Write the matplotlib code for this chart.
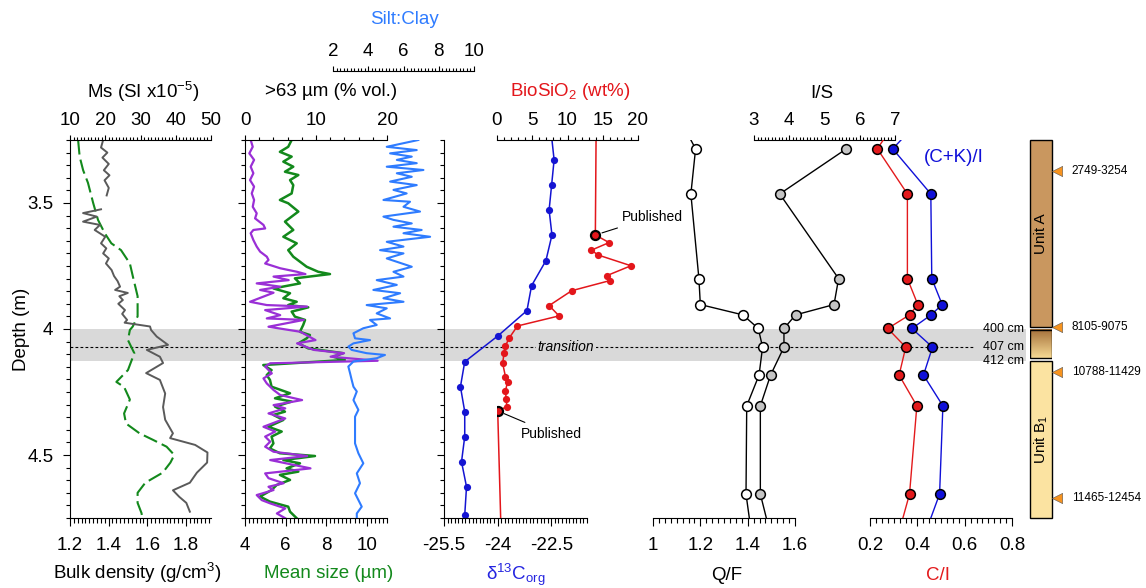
import numpy as np
import matplotlib
matplotlib.use("Agg")
import matplotlib.pyplot as plt
from matplotlib.ticker import MultipleLocator, FixedLocator, FuncFormatter
from matplotlib.transforms import blended_transform_factory
from matplotlib.patches import Rectangle
from matplotlib.lines import Line2D
from matplotlib.colors import LinearSegmentedColormap

plt.rcParams["font.family"] = ["Liberation Sans", "DejaVu Sans"]
plt.rcParams["mathtext.fontset"] = "custom"
plt.rcParams["mathtext.rm"] = "Liberation Sans"
plt.rcParams["mathtext.it"] = "Liberation Sans:italic"
plt.rcParams["axes.unicode_minus"] = False

# ---------------- data ----------------
# magnetic susceptibility (SI x1e-5)
ms_depth = [3.25, 3.28, 3.30, 3.32, 3.345, 3.37, 3.39, 3.41, 3.44, 3.47, 3.49, 3.525, 3.54, 3.554,
            3.574, 3.587, 3.607, 3.634, 3.66, 3.68, 3.70, 3.72, 3.74, 3.766, 3.79, 3.81, 3.832, 3.845,
            3.857, 3.87, 3.885, 3.90, 3.925, 3.94, 3.964, 3.975, 3.99, 4.004, 4.03, 4.063, 4.083, 4.11,
            4.135, 4.175, 4.202, 4.256, 4.31, 4.36, 4.414, 4.433, 4.46, 4.49, 4.53, 4.57, 4.61, 4.64,
            4.666, 4.69, 4.725]
ms_val = [19.4, 18.8, 20.6, 19.2, 21.0, 19.6, 21.2, 19.8, 21.0, 20.4, np.nan, 18.8, 13.7, 17.6,
          13.7, 18.5, 17.0, 20.0, 18.8, 20.3, 19.4, 21.0, 20.2, 21.8, 22.5, 23.5, 24.2, 22.8,
          26.4, 24.0, 25.0, 23.7, 25.6, 24.8, 26.2, 25.5, 32.7, 33.0, 34.6, 37.8, 31.8, 35.5,
          36.4, 31.6, 35.5, 37.0, 36.4, 37.0, 39.2, 38.4, 45.5, 49.0, 48.9, 46.0, 44.0, 39.2,
          41.0, 43.0, 44.0]

# bulk density (g/cm3)
bd_depth = [3.25, 3.316, 3.37, 3.42, 3.5, 3.567, 3.62, 3.66, 3.687, 3.74, 3.79, 3.87, 3.95, 3.99,
            4.004, 4.044, 4.096, 4.163, 4.21, 4.23, 4.28, 4.335, 4.375, 4.414, 4.44, 4.467, 4.5,
            4.53, 4.57, 4.61, 4.65, 4.69, 4.73, 4.75]
bd_val = [1.242, 1.25, 1.268, 1.293, 1.32, 1.345, 1.38, 1.414, 1.464, 1.51, 1.525, 1.55, 1.55, 1.525,
          1.51, 1.50, 1.533, 1.50, 1.44, 1.48, 1.51, 1.48, 1.49, 1.56, 1.63, 1.70, 1.74,
          1.72, 1.68, 1.59, 1.55, 1.55, 1.57, 1.575]

# >63 um fraction (% vol.)
sand_depth = [3.250, 3.277, 3.303, 3.329, 3.356, 3.382, 3.409, 3.435, 3.462, 3.488, 3.515, 3.541,
              3.561, 3.587, 3.601, 3.607, 3.620, 3.647, 3.673, 3.693, 3.713, 3.726, 3.740, 3.759,
              3.773, 3.782, 3.792, 3.806, 3.819, 3.832, 3.845, 3.856, 3.892, 3.905, 3.911, 3.925,
              3.945, 3.958, 3.964, 3.991, 4.011, 4.044, 4.057, 4.083, 4.096, 4.110, 4.126, 4.136,
              4.149, 4.176, 4.196, 4.216, 4.242, 4.262, 4.282, 4.302, 4.315, 4.335, 4.355, 4.388,
              4.407, 4.427, 4.447, 4.467, 4.487, 4.504, 4.520, 4.553, 4.573, 4.592, 4.612, 4.626,
              4.639, 4.659, 4.679, 4.692, 4.712, 4.732, 4.751]
sand_val = [0.80, 1.09, 0.61, 1.28, 0.80, 1.18, 0.71, 1.28, 0.95, 1.28, 1.09, 1.65,
            1.42, 2.60, 2.84, 1.18, 0.80, 1.18, 1.65, 2.13, 3.07, 3.31, 2.84, 4.96,
            7.33, 8.51, 4.02, 6.15, 1.65, 4.96, 2.13, 4.02, 0.71, 3.07, 8.75, 2.84,
            4.96, 3.07, 8.27, 3.31, 7.80, 9.93, 7.33, 9.69, 13.95, 12.06, 18.68, 3.55,
            2.84, 3.78, 2.60, 3.07, 4.02, 4.96, 8.04, 4.02, 5.67, 3.31, 5.67, 2.60,
            4.26, 2.84, 3.55, 2.84, 4.02, 8.75, 3.55, 9.22, 2.84, 3.31, 5.44, 3.31,
            4.02, 1.65, 2.36, 3.55, 5.67, 4.49, 5.67]

# mean grain size (um)
msz_depth = [3.250, 3.277, 3.297, 3.316, 3.336, 3.356, 3.376, 3.389, 3.409, 3.429, 3.462, 3.488,
             3.501, 3.534, 3.554, 3.574, 3.607, 3.634, 3.660, 3.687, 3.713, 3.753, 3.773, 3.782,
             3.799, 3.819, 3.839, 3.858, 3.878, 3.892, 3.905, 3.914, 3.931, 3.951, 3.964, 3.984,
             4.011, 4.024, 4.037, 4.057, 4.077, 4.096, 4.110, 4.123, 4.143, 4.163, 4.183, 4.202,
             4.229, 4.255, 4.275, 4.288, 4.308, 4.328, 4.341, 4.361, 4.388, 4.407, 4.427, 4.454,
             4.474, 4.493, 4.504, 4.520, 4.533, 4.553, 4.566, 4.579, 4.599, 4.619, 4.639, 4.665,
             4.685, 4.705, 4.725, 4.751]
msz_val = [6.30, 6.13, 5.72, 6.30, 5.89, 6.38, 5.97, 6.63, 6.22, 6.38, 6.30, 5.72,
           6.13, 6.63, 6.30, 5.97, 6.38, 5.89, 6.55, 6.13, 6.38, 7.04, 7.61, 8.19,
           6.46, 6.71, 5.40, 6.22, 5.89, 6.55, 6.13, 7.12, 6.30, 6.46, 6.96, 6.87,
           6.71, 7.20, 7.04, 6.63, 7.12, 8.84, 8.35, 8.92, 4.90, 5.31, 5.07, 5.23,
           5.31, 6.22, 5.48, 6.30, 5.48, 5.97, 5.40, 5.89, 5.15, 5.81, 5.31, 5.40,
           5.23, 5.72, 7.45, 5.89, 6.71, 6.05, 6.63, 5.72, 6.22, 5.56, 5.31, 4.74,
           5.23, 6.13, 6.22, 6.55]

# silt:clay ratio
sc_depth = [3.250, 3.277, 3.290, 3.303, 3.316, 3.329, 3.342, 3.356, 3.369, 3.382, 3.396, 3.415,
            3.429, 3.448, 3.462, 3.488, 3.495, 3.515, 3.534, 3.554, 3.567, 3.581, 3.594, 3.607,
            3.620, 3.634, 3.654, 3.673, 3.687, 3.700, 3.720, 3.753, 3.773, 3.792, 3.806, 3.825,
            3.845, 3.858, 3.878, 3.892, 3.905, 3.918, 3.938, 3.958, 3.964, 3.984, 3.997, 4.017,
            4.037, 4.044, 4.057, 4.070, 4.083, 4.096, 4.103, 4.116, 4.129, 4.149, 4.176, 4.202,
            4.229, 4.248, 4.282, 4.321, 4.348, 4.401, 4.454, 4.493, 4.533, 4.573, 4.612, 4.652,
            4.705, 4.732, 4.751]
sc_val = [6.84, 5.05, 6.75, 5.24, 6.47, 5.62, 6.75, 5.05, 7.13, 5.62, 6.47, 5.24,
          6.75, 5.43, 6.18, 4.86, 6.37, 6.00, 6.94, 4.86, 5.43, 6.47, 5.43, 7.03,
          6.00, 7.51, 5.05, 6.00, 4.67, 6.00, 5.05, 6.47, 5.43, 6.00, 4.48, 5.62,
          4.29, 5.81, 4.86, 6.00, 3.91, 5.05, 4.48, 5.24, 4.10, 4.48, 3.72, 3.16,
          3.25, 4.10, 3.16, 2.87, 3.06, 3.91, 4.95, 4.48, 3.16, 2.87, 2.97, 3.06,
          3.16, 3.35, 3.16, 3.44, 3.25, 3.25, 3.25, 3.44, 3.72, 3.35, 3.53, 3.25,
          3.63, 3.35, 3.35]

# d13C org (permil) -- first value is where the line meets the top of the plot
d13_depth = [3.25, 3.329, 3.429, 3.528, 3.627, 3.729, 3.828, 3.927, 4.027, 4.13, 4.229, 4.328,
             4.427, 4.527, 4.626, 4.738]
d13_val = [-22.48, -22.42, -22.49, -22.56, -22.48, -22.65, -23.05, -23.18, -23.99, -24.92, -25.04,
           -24.92, -24.92, -25.01, -24.87, -24.92]

# BioSiO2 (wt%), new measurements
bio_depth = [3.657, 3.687, 3.706, 3.749, 3.788, 3.808, 3.848, 3.907, 3.948, 3.988, 4.037, 4.067,
             4.096, 4.136, 4.189, 4.209, 4.246, 4.278, 4.308]
bio_val = [15.9, 13.4, 14.3, 19.0, 15.6, 16.0, 10.6, 7.4, 8.8, 2.9, 1.7, 1.2,
           1.0, 0.8, 1.2, 1.5, 1.2, 1.3, 1.4]
# published BioSiO2 values and where their lines leave the plot
pub_depth = [3.627, 4.325]
pub_val = [13.95, 0.1]
pub_edge_val = [14.05, 0.52]

# clay mineralogy
clay_depth = [3.285, 3.464, 3.80, 3.903, 3.944, 3.998, 4.072, 4.183, 4.305, 4.655]
qf_val = [1.18, 1.16, 1.194, 1.20, 1.38, 1.445, 1.463, 1.448, 1.396, 1.393]
is_val = [5.62, 3.73, 5.40, 5.27, 4.18, 3.85, 3.85, 3.47, 3.18, 3.18]
ci_val = [0.231, 0.358, 0.358, 0.402, 0.367, 0.275, 0.351, 0.323, 0.398, 0.367]
ck_val = [0.296, 0.457, 0.461, 0.505, 0.458, 0.377, 0.464, 0.426, 0.508, 0.494]
# values where the lines reach the top / bottom of the plot
qf_edge = [1.16, 1.407]
is_edge = [np.nan, 3.35]
ci_edge = [0.256, 0.339]
ck_edge = [0.331, 0.457]

# stratigraphy
unit_names = ["Unit A", "Unit B$_1$"]
unit_top = [3.25, 4.127]
unit_bot = [3.993, 4.75]
trans_top, trans_bot = 4.003, 4.115
age_depth = [3.373, 3.993, 4.172, 4.672]
age_labels = ["2749-3254", "8105-9075", "10788-11429", "11465-12454"]

band_top, band_bot, trans_line = 4.00, 4.127, 4.07

# ---------------- figure ----------------
W, H = 1146, 588
TOP, BOT = 140, 518
D0, D1 = 3.25, 4.75
FS = 13.5

fig = plt.figure(figsize=(W / 100, H / 100), dpi=100)


def make_ax(x0, x1):
    ax = fig.add_axes([x0 / W, (H - BOT) / H, (x1 - x0) / W, (BOT - TOP) / H])
    ax.set_ylim(D1, D0)
    ax.patch.set_visible(False)
    for s in ax.spines.values():
        s.set_visible(False)
    ax.tick_params(which="both", left=False, right=False, top=False, bottom=False,
                   labelleft=False, labelright=False, labeltop=False, labelbottom=False)
    return ax


def gfmt(v, p):
    return f"{v:g}"


def style_x(ax, side, lo, hi, major, minor):
    ax.set_xlim(lo, hi)
    ax.spines[side].set_visible(True)
    ax.xaxis.set_ticks_position(side)
    ax.xaxis.set_major_locator(MultipleLocator(major))
    ax.xaxis.set_minor_locator(MultipleLocator(minor))
    ax.xaxis.set_major_formatter(FuncFormatter(gfmt))
    kw = {side: True, "label" + side: True}
    ax.tick_params(axis="x", which="both", direction="out", labelsize=FS, width=0.8, **kw)
    if side == "bottom":
        ax.tick_params(axis="x", which="major", length=5.8, pad=8)
        ax.tick_params(axis="x", which="minor", length=3.6)
    else:
        ax.tick_params(axis="x", which="major", length=3.8, pad=4)
        ax.tick_params(axis="x", which="minor", length=2.4)


def style_depth(ax, labels):
    ax.spines["left"].set_visible(True)
    ax.yaxis.set_major_locator(FixedLocator([3.5, 4.0, 4.5]))
    ax.yaxis.set_minor_locator(MultipleLocator(0.05))
    ax.yaxis.set_major_formatter(FuncFormatter(gfmt))
    ax.tick_params(axis="y", which="both", left=True, direction="out", labelleft=labels,
                   labelsize=FS, width=0.8)
    ax.tick_params(axis="y", which="major", length=5, pad=7)
    ax.tick_params(axis="y", which="minor", length=3)


# panel 1: bulk density + Ms
ax_bd = make_ax(70, 211)
style_x(ax_bd, "bottom", 1.2, 1.93, 0.2, 0.02)
style_depth(ax_bd, True)
ax_bd.plot(bd_val, bd_depth, color="#13891c", lw=1.5, ls=(0, (7, 2.5)))

ax_ms = make_ax(70, 211)
style_x(ax_ms, "top", 10, 50, 10, 1)
ax_ms.plot(ms_val, ms_depth, color="#5a5a5a", lw=1.4)

# panel 2: grain size
ax_msz = make_ax(245, 387)
style_x(ax_msz, "bottom", 4, 11, 2, 0.2)
style_depth(ax_msz, False)

ax_sand = make_ax(245, 387)
style_x(ax_sand, "top", 0, 20, 10, 2)

ax_sc = make_ax(333, 474)
style_x(ax_sc, "top", 2, 10, 2, 0.2)
ax_sc.spines["top"].set_position(("outward", 69 * 0.72))
ax_sc.plot(sc_val, sc_depth, color="#2f7cff", lw=1.5)
ax_msz.plot(msz_val, msz_depth, color="#13891c", lw=1.8)
ax_sand.plot(sand_val, sand_depth, color="#9a2fd6", lw=1.6)

# panel 3: d13C and BioSiO2
ax_d13 = make_ax(444, 587)
style_x(ax_d13, "bottom", -25.5, -21.5, 1.5, 0.1)
style_depth(ax_d13, False)
ax_d13.plot(d13_val, d13_depth, color="#1414d2", lw=1.1)
ax_d13.plot(d13_val[1:], d13_depth[1:], "o", color="#1414d2", ms=5.2, mew=0)

ax_bio = make_ax(497, 638)
style_x(ax_bio, "top", 0, 20, 5, 1)
ax_bio.plot([pub_edge_val[0], pub_val[0]], [D0, pub_depth[0]], color="#e3161b", lw=1.1)
ax_bio.plot([pub_val[1], pub_edge_val[1]], [pub_depth[1], D1], color="#e3161b", lw=1.1)
ax_bio.plot([pub_val[0]] + bio_val + [pub_val[1]], [pub_depth[0]] + bio_depth + [pub_depth[1]],
            color="#e3161b", lw=1.1)
ax_bio.plot(bio_val, bio_depth, "o", color="#e3161b", ms=5.2, mew=0)
ax_bio.plot(pub_val, pub_depth, "o", mfc="#e3161b", mec="k", ms=6.5, mew=1.6, zorder=4)
ax_bio.annotate("Published", xy=(pub_val[0], pub_depth[0]), xytext=(19, 13),
                textcoords="offset points", ha="left", va="center", fontsize=10,
                arrowprops=dict(arrowstyle="-", color="k", lw=0.8, shrinkA=3, shrinkB=5),
                annotation_clip=False)
ax_bio.annotate("Published", xy=(pub_val[1], pub_depth[1]), xytext=(17, -16.5),
                textcoords="offset points", ha="left", va="center", fontsize=10,
                arrowprops=dict(arrowstyle="-", color="k", lw=0.8, shrinkA=3, shrinkB=5),
                annotation_clip=False)

# panel 4: Q/F and I/S
ax_qf = make_ax(653, 795)
style_x(ax_qf, "bottom", 1, 1.6, 0.2, 0.025)
ax_qf.plot([qf_edge[0]] + qf_val + [qf_edge[1]], [D0] + clay_depth + [D1], color="k", lw=1)
ax_qf.plot(qf_val, clay_depth, "o", mfc="white", mec="k", ms=7, mew=1.1)

ax_is = make_ax(754, 895)
style_x(ax_is, "top", 3, 7, 1, 0.1)
ax_is.plot([is_edge[0]] + is_val + [is_edge[1]], [D0] + clay_depth + [D1], color="k", lw=1)
ax_is.plot(is_val, clay_depth, "o", mfc="#c4c4c4", mec="k", ms=7, mew=1.1)

# panel 5: C/I and (C+K)/I
ax_ci = make_ax(870, 1012)
style_x(ax_ci, "bottom", 0.2, 0.8, 0.2, 0.025)
ax_ci.plot([ck_edge[0]] + ck_val + [ck_edge[1]], [D0] + clay_depth + [D1], color="#1010d8", lw=1)
ax_ci.plot([ci_edge[0]] + ci_val + [ci_edge[1]], [D0] + clay_depth + [D1], color="#e31a1c", lw=1)
ax_ci.plot(ck_val, clay_depth, "o", mfc="#1010d8", mec="k", ms=7, mew=1.1)
ax_ci.plot(ci_val, clay_depth, "o", mfc="#e31a1c", mec="k", ms=7, mew=1.1)

# stratigraphic column
ax_col = make_ax(1030, 1052)
ax_col.set_xlim(0, 1)
cmap = LinearSegmentedColormap.from_list("tr", ["#a4703a", "#f6d994"])
ax_col.imshow(np.linspace(0, 1, 60)[:, None], cmap=cmap, aspect="auto",
              extent=[0, 1, trans_bot, trans_top], origin="upper", zorder=1)
ax_col.add_patch(Rectangle((0, trans_top), 1, trans_bot - trans_top, fill=False, ec="k", lw=1, zorder=2))
for name, t, b, c in zip(unit_names, unit_top, unit_bot, ["#c9975f", "#fbe3a1"]):
    ax_col.add_patch(Rectangle((0, t), 1, b - t, fc=c, ec="k", lw=1, zorder=2, clip_on=False))
    ax_col.text(0.5, (t + b) / 2, name, rotation=90, ha="center", va="center", fontsize=11, zorder=3)
ax_col.set_xlim(0, 1)
ax_col.set_ylim(D1, D0)
ax_col.scatter(np.full(len(age_depth), 1.22), age_depth, marker="<", s=55, c="#f7931e",
               edgecolors="#555555", linewidths=0.4, clip_on=False, zorder=4)
for d, lab in zip(age_depth, age_labels):
    ax_col.text(1.9, d, lab, ha="left", va="center", fontsize=8.5, clip_on=False)

# transition band across all panels
tr = blended_transform_factory(fig.transFigure, ax_bd.transData)
band = Rectangle((70 / W, band_top), (1026 - 70) / W, band_bot - band_top, transform=tr,
                 fc="#d9d9d9", ec="none", zorder=-2)
fig.add_artist(band)
fig.add_artist(Line2D([70 / W, 973 / W], [trans_line, trans_line], transform=tr, color="k",
                      lw=0.8, ls=(0, (2.5, 2)), zorder=-1))
fig.text(566 / W, trans_line, "transition", transform=tr, ha="center", va="center", fontsize=10,
         style="italic", zorder=-0.5, bbox=dict(fc="#d9d9d9", ec="none", pad=1.5))
for d, lab in zip([band_top, trans_line, band_bot], ["400 cm", "407 cm", "412 cm"]):
    fig.text(1024 / W, d, lab, transform=tr, ha="right", va="center", fontsize=9)

# axis titles
def ftext(x, y, s, **kw):
    fig.text(x / W, 1 - y / H, s, ha="center", va="center", fontsize=FS, **kw)


ftext(22, 329, "Depth (m)", rotation=90)
ftext(143, 92, "Ms (SI x10$^{-5}$)")
ftext(331, 92, ">63 µm (% vol.)")
ftext(404, 20, "Silt:Clay", color="#2f7cff")
ftext(570, 92, "BioSiO$_2$ (wt%)", color="#e3161b")
ftext(822, 93, "I/S")
ftext(954, 158, "(C+K)/I", color="#1010d8")
ftext(137, 573, "Bulk density (g/cm$^3$)")
ftext(329, 573, "Mean size (µm)", color="#13891c")
ftext(516, 575, "δ$^{13}$C$_{\\rm org}$", color="#2424e0")
ftext(727, 576, "Q/F")
ftext(938, 576, "C/I", color="#e31a1c")

fig.savefig("out.png", dpi=100)
